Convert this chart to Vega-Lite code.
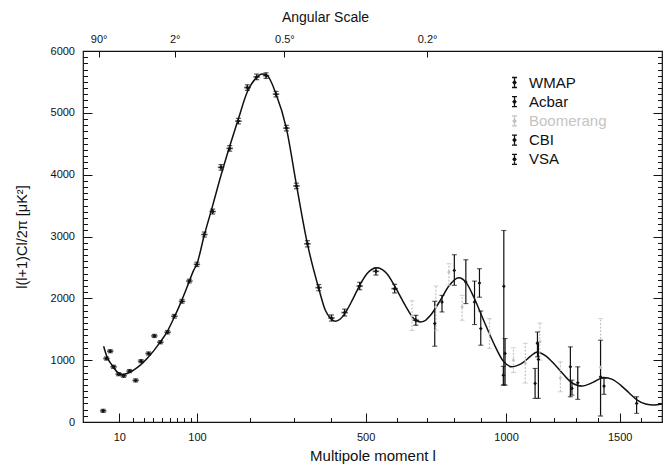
{
  "$schema": "https://vega.github.io/schema/vega-lite/v6.json",
  "width": 579,
  "height": 371,
  "autosize": {"type": "none"},
  "padding": {"left": 83, "top": 51, "right": 7, "bottom": 51},
  "background": "white",
  "config": {
    "view": {"stroke": "#111", "strokeWidth": 1.2},
    "font": "Liberation Sans",
    "axis": {"domain": false, "grid": false, "tickColor": "#111", "labelColor": "#111", "titleColor": "#111", "labelFont": "Liberation Sans", "titleFont": "Liberation Sans", "titleFontWeight": "normal", "labelFontSize": 11, "tickWidth": 1}
  },
  "datasets": {
    "curve": [
      {"l": 2.15, "v": 1226}, {"l": 3.45, "v": 1053}, {"l": 5.78, "v": 919}, {"l": 8.57, "v": 811}, {"l": 11.8, "v": 769}, {"l": 15.4, "v": 785}, {"l": 20.7, "v": 839}, {"l": 26.8, "v": 919}, {"l": 33.5, "v": 1027}, {"l": 40.6, "v": 1150}, {"l": 48.4, "v": 1295}, {"l": 56.7, "v": 1457}, {"l": 65.4, "v": 1673}, {"l": 74.8, "v": 1915}, {"l": 84.6, "v": 2182}, {"l": 94.7, "v": 2452}, {"l": 100, "v": 2560}, {"l": 112, "v": 3020}, {"l": 126.5, "v": 3500}, {"l": 141.6, "v": 3990}, {"l": 158, "v": 4460}, {"l": 175, "v": 4900}, {"l": 193.5, "v": 5340}, {"l": 213, "v": 5570}, {"l": 225, "v": 5630}, {"l": 236, "v": 5610}, {"l": 257, "v": 5310}, {"l": 282, "v": 4750}, {"l": 307, "v": 3830}, {"l": 335, "v": 2880}, {"l": 365, "v": 2160}, {"l": 383, "v": 1807}, {"l": 397, "v": 1680}, {"l": 411, "v": 1629}, {"l": 425, "v": 1665}, {"l": 438, "v": 1753}, {"l": 460, "v": 1970}, {"l": 482, "v": 2210}, {"l": 504, "v": 2398}, {"l": 520, "v": 2470}, {"l": 537, "v": 2495}, {"l": 552, "v": 2465}, {"l": 567, "v": 2398}, {"l": 594, "v": 2182}, {"l": 627, "v": 1887}, {"l": 656, "v": 1673}, {"l": 679, "v": 1618}, {"l": 695, "v": 1640}, {"l": 714, "v": 1726}, {"l": 749, "v": 1968}, {"l": 780, "v": 2200}, {"l": 816, "v": 2334}, {"l": 845, "v": 2250}, {"l": 873, "v": 2021}, {"l": 911, "v": 1645}, {"l": 951, "v": 1270}, {"l": 991, "v": 973}, {"l": 1025, "v": 892}, {"l": 1050, "v": 920}, {"l": 1073, "v": 973}, {"l": 1100, "v": 1060}, {"l": 1129, "v": 1134}, {"l": 1165, "v": 1070}, {"l": 1200, "v": 947}, {"l": 1240, "v": 780}, {"l": 1274, "v": 650}, {"l": 1326, "v": 581}, {"l": 1375, "v": 640}, {"l": 1425, "v": 721}, {"l": 1465, "v": 690}, {"l": 1504, "v": 597}, {"l": 1545, "v": 470}, {"l": 1584, "v": 355}, {"l": 1625, "v": 290}, {"l": 1665, "v": 274}, {"l": 1706, "v": 290}
    ],
    "wmap": [
      {"exp": "WMAP", "l": 2, "v": 180, "lo": 155, "hi": 205},
      {"exp": "WMAP", "l": 3.2, "v": 1027, "lo": 1002, "hi": 1052},
      {"exp": "WMAP", "l": 4.9, "v": 1145, "lo": 1120, "hi": 1170},
      {"exp": "WMAP", "l": 6.6, "v": 892, "lo": 867, "hi": 917},
      {"exp": "WMAP", "l": 9.6, "v": 774, "lo": 749, "hi": 799},
      {"exp": "WMAP", "l": 12.9, "v": 747, "lo": 722, "hi": 772},
      {"exp": "WMAP", "l": 17.4, "v": 823, "lo": 798, "hi": 848},
      {"exp": "WMAP", "l": 22.5, "v": 673, "lo": 648, "hi": 698},
      {"exp": "WMAP", "l": 27.5, "v": 984, "lo": 959, "hi": 1009},
      {"exp": "WMAP", "l": 35.1, "v": 1108, "lo": 1083, "hi": 1133},
      {"exp": "WMAP", "l": 41.4, "v": 1392, "lo": 1367, "hi": 1417},
      {"exp": "WMAP", "l": 48.4, "v": 1290, "lo": 1265, "hi": 1315},
      {"exp": "WMAP", "l": 57.4, "v": 1452, "lo": 1424, "hi": 1480},
      {"exp": "WMAP", "l": 66.4, "v": 1710, "lo": 1680, "hi": 1740},
      {"exp": "WMAP", "l": 77.2, "v": 1952, "lo": 1922, "hi": 1982},
      {"exp": "WMAP", "l": 88.1, "v": 2279, "lo": 2249, "hi": 2309},
      {"exp": "WMAP", "l": 99.9, "v": 2549, "lo": 2514, "hi": 2584},
      {"exp": "WMAP", "l": 112.2, "v": 3032, "lo": 2992, "hi": 3072},
      {"exp": "WMAP", "l": 126.5, "v": 3403, "lo": 3363, "hi": 3443},
      {"exp": "WMAP", "l": 141.6, "v": 4118, "lo": 4073, "hi": 4163},
      {"exp": "WMAP", "l": 158, "v": 4425, "lo": 4380, "hi": 4470},
      {"exp": "WMAP", "l": 175.1, "v": 4866, "lo": 4821, "hi": 4911},
      {"exp": "WMAP", "l": 193.5, "v": 5408, "lo": 5363, "hi": 5453},
      {"exp": "WMAP", "l": 213.4, "v": 5581, "lo": 5536, "hi": 5626},
      {"exp": "WMAP", "l": 234.2, "v": 5602, "lo": 5557, "hi": 5647},
      {"exp": "WMAP", "l": 257.2, "v": 5302, "lo": 5257, "hi": 5347},
      {"exp": "WMAP", "l": 282, "v": 4753, "lo": 4708, "hi": 4798},
      {"exp": "WMAP", "l": 306.8, "v": 3818, "lo": 3773, "hi": 3863},
      {"exp": "WMAP", "l": 335, "v": 2882, "lo": 2832, "hi": 2932},
      {"exp": "WMAP", "l": 365, "v": 2173, "lo": 2123, "hi": 2223},
      {"exp": "WMAP", "l": 400, "v": 1682, "lo": 1632, "hi": 1732},
      {"exp": "WMAP", "l": 437.5, "v": 1770, "lo": 1715, "hi": 1825},
      {"exp": "WMAP", "l": 482, "v": 2199, "lo": 2139, "hi": 2259},
      {"exp": "WMAP", "l": 532, "v": 2436, "lo": 2376, "hi": 2496},
      {"exp": "WMAP", "l": 592, "v": 2157, "lo": 2087, "hi": 2227},
      {"exp": "WMAP", "l": 663, "v": 1645, "lo": 1565, "hi": 1725}
    ],
    "other": [
      {"exp": "Boomerang", "l": 650, "v": 1720, "lo": 1480, "hi": 1960},
      {"exp": "Boomerang", "l": 733, "v": 1860, "lo": 1484, "hi": 2198},
      {"exp": "Boomerang", "l": 780, "v": 2424, "lo": 2210, "hi": 2560},
      {"exp": "Boomerang", "l": 829, "v": 1860, "lo": 1645, "hi": 2048},
      {"exp": "Boomerang", "l": 934, "v": 1430, "lo": 1190, "hi": 1673},
      {"exp": "Boomerang", "l": 1030, "v": 1000, "lo": 800, "hi": 1200},
      {"exp": "Boomerang", "l": 1079, "v": 951, "lo": 629, "hi": 1274},
      {"exp": "Boomerang", "l": 1140, "v": 1300, "lo": 1000, "hi": 1600},
      {"exp": "Boomerang", "l": 1229, "v": 710, "lo": 489, "hi": 973},
      {"exp": "Boomerang", "l": 1410, "v": 885, "lo": 97, "hi": 1673},
      {"exp": "CBI", "l": 729, "v": 1592, "lo": 1226, "hi": 1952},
      {"exp": "Acbar", "l": 755, "v": 1940, "lo": 1780, "hi": 2048},
      {"exp": "VSA", "l": 800, "v": 2452, "lo": 2210, "hi": 2705},
      {"exp": "CBI", "l": 843, "v": 2263, "lo": 1915, "hi": 2624},
      {"exp": "Acbar", "l": 876, "v": 1940, "lo": 1576, "hi": 2279},
      {"exp": "VSA", "l": 895, "v": 2247, "lo": 2018, "hi": 2479},
      {"exp": "CBI", "l": 900, "v": 1511, "lo": 1242, "hi": 1795},
      {"exp": "CBI", "l": 991, "v": 2194, "lo": 597, "hi": 3097},
      {"exp": "Acbar", "l": 996, "v": 1108, "lo": 597, "hi": 1350},
      {"exp": "VSA", "l": 989, "v": 758, "lo": 597, "hi": 900},
      {"exp": "VSA", "l": 1130, "v": 1270, "lo": 1053, "hi": 1456},
      {"exp": "CBI", "l": 1134, "v": 1011, "lo": 382, "hi": 1290},
      {"exp": "Acbar", "l": 1120, "v": 624, "lo": 382, "hi": 866},
      {"exp": "CBI", "l": 1273, "v": 892, "lo": 408, "hi": 1215},
      {"exp": "Acbar", "l": 1280, "v": 543, "lo": 435, "hi": 677},
      {"exp": "VSA", "l": 1306, "v": 634, "lo": 366, "hi": 892},
      {"exp": "CBI", "l": 1410, "v": 731, "lo": 97, "hi": 1323},
      {"exp": "Acbar", "l": 1426, "v": 581, "lo": 447, "hi": 705},
      {"exp": "Acbar", "l": 1581, "v": 301, "lo": 140, "hi": 408}
    ]
  },
  "resolve": {"axis": {"x": "independent", "y": "independent"}},
  "layer": [
    {
      "data": {"name": "curve"},
      "mark": {"type": "line", "interpolate": "monotone", "color": "#111", "strokeWidth": 1.5},
      "encoding": {
        "x": {"field": "l", "type": "quantitative",
          "scale": {"type": "pow", "exponent": 0.6, "domain": [-2.12, 1706], "nice": false, "zero": false},
          "axis": {"orient": "bottom", "values": [10, 100, 500, 1000, 1500], "format": "d", "tickSize": -9, "labelPadding": 18.5, "title": "Multipole moment  l", "titleFontSize": 15, "titleY": 38.5, "titleBaseline": "alphabetic"}},
        "y": {"field": "v", "type": "quantitative",
          "scale": {"domain": [0, 6000], "nice": false, "zero": false},
          "axis": {"orient": "left", "values": [0, 1000, 2000, 3000, 4000, 5000, 6000], "format": "d", "tickSize": -9, "labelPadding": 17.5, "title": "l(l+1)Cl/2π [μK²]", "titleFontSize": 14.5, "titleAngle": -90, "titleX": -57, "titleY": 185.5, "titleBaseline": "alphabetic", "titleAlign": "center"}}
      }
    },
    {
      "data": {"name": "wmap"},
      "mark": {"type": "rule", "color": "#111", "strokeWidth": 1.3},
      "encoding": {
        "x": {"field": "l", "type": "quantitative",
          "axis": {"orient": "bottom", "values": [20, 30, 40, 50, 60, 70, 80, 90, 200, 300, 400, 600, 700, 800, 900, 1100, 1200, 1300, 1400, 1600], "tickSize": -4.5, "labels": false, "title": null}},
        "y": {"field": "lo", "type": "quantitative",
          "axis": {"orient": "left", "values": [0, 100, 200, 300, 400, 500, 600, 700, 800, 900, 1000, 1100, 1200, 1300, 1400, 1500, 1600, 1700, 1800, 1900, 2000, 2100, 2200, 2300, 2400, 2500, 2600, 2700, 2800, 2900, 3000, 3100, 3200, 3300, 3400, 3500, 3600, 3700, 3800, 3900, 4000, 4100, 4200, 4300, 4400, 4500, 4600, 4700, 4800, 4900, 5000, 5100, 5200, 5300, 5400, 5500, 5600, 5700, 5800, 5900, 6000], "tickSize": -4.5, "labels": false, "title": null}},
        "y2": {"field": "hi"}
      }
    },
    {
      "data": {"name": "wmap"},
      "mark": {"type": "tick", "orient": "horizontal", "color": "#111", "size": 5, "thickness": 1.2},
      "encoding": {
        "x": {"field": "l", "type": "quantitative", "axis": null},
        "y": {"field": "lo", "type": "quantitative", "axis": null}
      }
    },
    {
      "data": {"name": "wmap"},
      "mark": {"type": "tick", "orient": "horizontal", "color": "#111", "size": 5, "thickness": 1.2},
      "encoding": {
        "x": {"field": "l", "type": "quantitative", "axis": null},
        "y": {"field": "hi", "type": "quantitative", "axis": null}
      }
    },
    {
      "data": {"name": "wmap"},
      "mark": {"type": "tick", "orient": "horizontal", "color": "#111", "size": 6.5, "thickness": 1.6},
      "encoding": {
        "x": {"field": "l", "type": "quantitative", "axis": null},
        "y": {"field": "v", "type": "quantitative", "axis": null}
      }
    },
    {
      "data": {"name": "wmap"},
      "mark": {"type": "point", "shape": "diamond", "filled": true, "size": 16, "opacity": 1},
      "encoding": {
        "x": {"field": "l", "type": "quantitative",
          "axis": {"orient": "top", "values": [0.713, 66.8, 277.1, 702], "tickSize": -6, "labelPadding": 13, "labelFontSize": 11,
            "labelExpr": "datum.value < 1 ? '90°' : datum.value < 100 ? '2°' : datum.value < 500 ? '0.5°' : '0.2°'",
            "title": "Angular Scale", "titleFontSize": 14, "titleX": 242, "titleY": -30, "titleBaseline": "alphabetic", "titleAlign": "center", "titleAnchor": null}},
        "y": {"field": "v", "type": "quantitative",
          "axis": {"orient": "right", "values": [0, 1000, 2000, 3000, 4000, 5000, 6000], "tickSize": -9, "labels": false, "title": null}},
        "color": {"field": "exp", "type": "nominal",
          "scale": {"domain": ["WMAP", "Acbar", "Boomerang", "CBI", "VSA"], "range": ["#111111", "#111111", "#c4c4c4", "#111111", "#111111"]}}
      }
    },
    {
      "data": {"name": "other"},
      "mark": {"type": "rule", "strokeWidth": 1.2},
      "encoding": {
        "x": {"field": "l", "type": "quantitative", "axis": null},
        "y": {"field": "lo", "type": "quantitative",
          "axis": {"orient": "right", "values": [0, 100, 200, 300, 400, 500, 600, 700, 800, 900, 1000, 1100, 1200, 1300, 1400, 1500, 1600, 1700, 1800, 1900, 2000, 2100, 2200, 2300, 2400, 2500, 2600, 2700, 2800, 2900, 3000, 3100, 3200, 3300, 3400, 3500, 3600, 3700, 3800, 3900, 4000, 4100, 4200, 4300, 4400, 4500, 4600, 4700, 4800, 4900, 5000, 5100, 5200, 5300, 5400, 5500, 5600, 5700, 5800, 5900, 6000], "tickSize": -4.5, "labels": false, "title": null}},
        "y2": {"field": "hi"},
        "color": {"field": "exp", "type": "nominal",
          "legend": {"title": null, "orient": "none", "legendX": 424, "legendY": 24, "padding": 0,
            "symbolType": "M0,-1L0,1M-0.5,-1L0.5,-1M-0.5,1L0.5,1M0,-0.35L0.3,0L0,0.35L-0.3,0Z",
            "symbolSize": 100, "symbolStrokeWidth": 1.3, "labelFontSize": 15, "labelFont": "Liberation Sans", "labelOffset": 7, "rowPadding": 2.2,
            "encode": {
              "labels": {"update": {"fill": {"signal": "datum.value === 'Boomerang' ? '#c4c4c4' : '#111111'"}}},
              "symbols": {"update": {"fill": {"scale": "color", "field": "value"}, "stroke": {"scale": "color", "field": "value"}}}
            }}},
        "strokeDash": {"condition": {"test": "datum.exp === 'Boomerang'", "value": [2, 1.5]}, "value": [1, 0]}
      }
    },
    {
      "data": {"name": "other"},
      "mark": {"type": "tick", "orient": "horizontal", "size": 5, "thickness": 1.1},
      "encoding": {
        "x": {"field": "l", "type": "quantitative", "axis": null},
        "y": {"field": "lo", "type": "quantitative", "axis": null},
        "color": {"field": "exp", "type": "nominal"}
      }
    },
    {
      "data": {"name": "other"},
      "mark": {"type": "tick", "orient": "horizontal", "size": 5, "thickness": 1.1},
      "encoding": {
        "x": {"field": "l", "type": "quantitative", "axis": null},
        "y": {"field": "hi", "type": "quantitative", "axis": null},
        "color": {"field": "exp", "type": "nominal"}
      }
    },
    {
      "data": {"name": "other"},
      "mark": {"type": "point", "shape": "diamond", "filled": true, "size": 14, "opacity": 1},
      "encoding": {
        "x": {"field": "l", "type": "quantitative", "axis": null},
        "y": {"field": "v", "type": "quantitative", "axis": null},
        "color": {"field": "exp", "type": "nominal"}
      }
    }
  ]
}
